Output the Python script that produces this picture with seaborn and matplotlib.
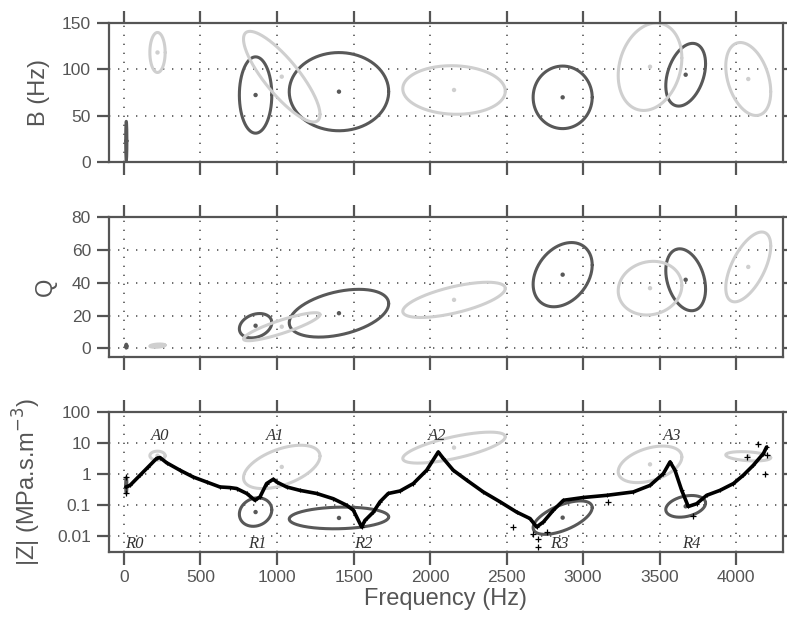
import numpy as np
import matplotlib
matplotlib.use("Agg")
import matplotlib.pyplot as plt
import seaborn as sns

# ---------------- data ----------------
# resonance (dark, R) and anti-resonance (light, A) modes: frequency centre and half-spread (Hz)
r_freq = [15, 860, 1405, 2867, 3671]
r_freq_half = [4, 106, 325, 193, 130]
a_freq = [219, 1031, 2157, 3438, 4080]
a_freq_half = [50, 250, 335, 208, 147]

# bandwidth B (Hz)
r_B = [23, 72.3, 75.9, 69.8, 94.1]
r_B_half = [21, 41, 42, 33.6, 33.7]
r_B_rho = [0.0, 0.0, 0.0, 0.0, 0.35]
a_B = [118, 92, 77.7, 102.7, 89.5]
a_B_half = [21.5, 48.7, 26.1, 47, 39.2]
a_B_rho = [0.0, -0.83, -0.05, 0.2, -0.35]

# quality factor Q
r_Q = [1.4, 13.8, 21.4, 44.8, 41.7]
r_Q_half = [1.2, 7.4, 14.5, 19.5, 18.8]
r_Q_rho = [0.0, 0.25, 0.4, 0.3, -0.3]
a_Q = [1.7, 13.2, 29.5, 36.6, 49.5]
a_Q_half = [1.0, 8.5, 10.7, 16.3, 21.2]
a_Q_rho = [0.3, 0.87, 0.65, 0.1, 0.6]

# |Z| (log10 MPa.s.m^-3)
r_Z_log = [-0.37, -1.23, -1.42, -1.41, -1.045]
r_Z_half = [0.25, 0.46, 0.35, 0.54, 0.35]
r_Z_rho = [0.0, 0.15, 0.1, 0.6, 0.3]
a_Z_log = [0.59, 0.227, 0.85, 0.31, 0.57]
a_Z_half = [0.146, 0.70, 0.50, 0.59, 0.15]
a_Z_rho = [0.0, 0.5, 0.7, 0.4, -0.3]

# measured impedance curve
curve_freq = [13, 39, 105, 159, 213, 235, 279, 366, 453, 540, 627, 693, 736, 802, 856,
              889, 932, 976, 998, 1063, 1150, 1259, 1368, 1455, 1499, 1553, 1575, 1630,
              1673, 1727, 1804, 1891, 1978, 2054, 2087, 2152, 2240, 2348, 2458, 2566,
              2654, 2697, 2741, 2806, 2872, 3002, 3155, 3329, 3438, 3525, 3569, 3601,
              3645, 3688, 3743, 3808, 3895, 3983, 4048, 4113, 4179, 4200]
curve_Z_log = [-0.42, -0.37, -0.04, 0.23, 0.5, 0.53, 0.36, 0.12, -0.1, -0.26, -0.42, -0.44,
               -0.47, -0.63, -0.85, -0.74, -0.31, -0.17, -0.26, -0.42, -0.53, -0.63, -0.8,
               -1.01, -1.17, -1.71, -1.5, -1.23, -0.9, -0.63, -0.55, -0.31, 0.12, 0.71, 0.5,
               0.12, -0.2, -0.58, -0.9, -1.23, -1.44, -1.71, -1.55, -1.17, -0.85, -0.76,
               -0.69, -0.58, -0.37, 0.01, 0.39, 0.12, -0.53, -1.05, -0.96, -0.69, -0.53,
               -0.31, -0.04, 0.28, 0.66, 0.87]
scatter_freq = [15, 15, 2544, 2675, 2708, 2763, 2708, 3166, 3721, 4146, 4200, 4190, 4070]
scatter_Z_log = [-0.1, -0.6, -1.71, -1.93, -2.09, -1.88, -2.36, -0.9, -1.37, 0.98, 0.6, 0.01, 0.55]

a_labels = ["A0", "A1", "A2", "A3"]
a_label_freq = [235, 987, 2048, 3580]
r_labels = ["R0", "R1", "R2", "R3", "R4"]
r_label_freq = [68, 874, 1564, 2845, 3710]
label_Z_top = 16.6
label_Z_bottom = 0.0056

x_ticks = [0, 500, 1000, 1500, 2000, 2500, 3000, 3500, 4000]
B_ticks = [0, 50, 100, 150]
Q_ticks = [0, 20, 40, 60, 80]
Z_ticks = [0.01, 0.1, 1, 10, 100]
Z_tick_labels = ["0.01", "0.1", "1", "10", "100"]

# ---------------- style ----------------
sns.set_style("white")
plt.rcParams["font.family"] = ["Liberation Sans", "DejaVu Sans"]
GRAY = "#555555"
DARK = "#585858"
LIGHT = "#cfcfcf"

fig = plt.figure(figsize=(7.87, 6.2), dpi=100)
left, width = 0.1385, 0.8564
ax1 = fig.add_axes([left, 0.7382, width, 0.2252])
ax2 = fig.add_axes([left, 0.4247, width, 0.2258])
ax3 = fig.add_axes([left, 0.1102, width, 0.2253])
ax3.set_yscale("log")


def ellipse(cx, cy, hx, hy, rho, n=240):
    t = np.linspace(0, 2 * np.pi, n)
    x = cx + hx * np.cos(t)
    y = cy + hy * (rho * np.cos(t) + np.sqrt(1 - rho ** 2) * np.sin(t))
    return x, y


def draw_modes(ax, fc, fh, yc, yh, rho, color, log=False):
    for cx, hx, cy, hy, r in zip(fc, fh, yc, yh, rho):
        x, y = ellipse(cx, cy, hx, hy, r)
        if log:
            y = 10 ** y
        sns.lineplot(x=x, y=y, sort=False, estimator=None, color=color, lw=2.2,
                     ax=ax, legend=False)
    ys = [10 ** v for v in yc] if log else yc
    sns.scatterplot(x=fc, y=ys, color=color, s=10, edgecolor="none", ax=ax, zorder=5)


draw_modes(ax1, r_freq, r_freq_half, r_B, r_B_half, r_B_rho, DARK)
draw_modes(ax1, a_freq, a_freq_half, a_B, a_B_half, a_B_rho, LIGHT)
draw_modes(ax2, r_freq, r_freq_half, r_Q, r_Q_half, r_Q_rho, DARK)
draw_modes(ax2, a_freq, a_freq_half, a_Q, a_Q_half, a_Q_rho, LIGHT)
draw_modes(ax3, r_freq, r_freq_half, r_Z_log, r_Z_half, r_Z_rho, DARK, log=True)
draw_modes(ax3, a_freq, a_freq_half, a_Z_log, a_Z_half, a_Z_rho, LIGHT, log=True)

curve_Z = [10 ** v for v in curve_Z_log]
sns.lineplot(x=curve_freq, y=curve_Z, sort=False, estimator=None, color="black",
             lw=2.6, ax=ax3, legend=False, zorder=6)
sns.scatterplot(x=curve_freq, y=curve_Z, marker="+", color="black", s=10,
                linewidth=0.8, ax=ax3, zorder=7)
sns.scatterplot(x=scatter_freq, y=[10 ** v for v in scatter_Z_log], marker="+",
                color="black", s=14, linewidth=0.9, ax=ax3, zorder=7)

for lab, f in zip(a_labels, a_label_freq):
    ax3.text(f, label_Z_top, lab, ha="center", va="center", fontsize=12,
             family=["Liberation Serif"], style="italic", color="#333333", zorder=8)
for lab, f in zip(r_labels, r_label_freq):
    ax3.text(f, label_Z_bottom, lab, ha="center", va="center", fontsize=12,
             family=["Liberation Serif"], style="italic", color="#333333", zorder=8)

# ---------------- axes styling ----------------
for ax in (ax1, ax2, ax3):
    ax.set_xlim(-98, 4307)
    ax.set_xticks(x_ticks)
    for sp in ax.spines.values():
        sp.set_visible(True)
        sp.set_color(GRAY)
        sp.set_linewidth(1.6)
    ax.tick_params(axis="both", which="major", direction="out", length=9, width=1.6,
                   color=GRAY, labelcolor=GRAY, labelsize=12.5, pad=4)
    ax.tick_params(axis="x", top=True, bottom=True)
    ax.tick_params(axis="y", left=True, right=True)
    ax.tick_params(which="minor", left=False, right=False, bottom=False, top=False)
    ax.grid(True, color=GRAY, linestyle=(0, (0.8, 4.6)), linewidth=1.2)
    ax.set_axisbelow(True)
    ax.set_xlabel("")
    ax.set_ylabel("")

ax1.set_ylim(0, 150)
ax1.set_yticks(B_ticks)
ax2.set_ylim(-5, 80)
ax2.set_yticks(Q_ticks)
ax3.set_ylim(0.0031, 100)
ax3.set_yticks(Z_ticks)
ax3.set_yticklabels(Z_tick_labels)
ax3.yaxis.set_minor_locator(matplotlib.ticker.NullLocator())

ax1.tick_params(axis="x", labelbottom=False)
ax2.tick_params(axis="x", labelbottom=False)

ax1.set_ylabel("B (Hz)", fontsize=17, color=GRAY)
ax2.set_ylabel("Q", fontsize=17, color=GRAY)
ax3.set_ylabel("|Z| (MPa.s.m$^{-3}$)", fontsize=17, color=GRAY)
ax1.yaxis.set_label_coords(-0.088, 0.5)
ax2.yaxis.set_label_coords(-0.078, 0.5)
ax3.yaxis.set_label_coords(-0.098, 0.5)
ax3.set_xlabel("Frequency (Hz)", fontsize=17, color=GRAY, labelpad=2)

fig.savefig("out.png", dpi=100)
